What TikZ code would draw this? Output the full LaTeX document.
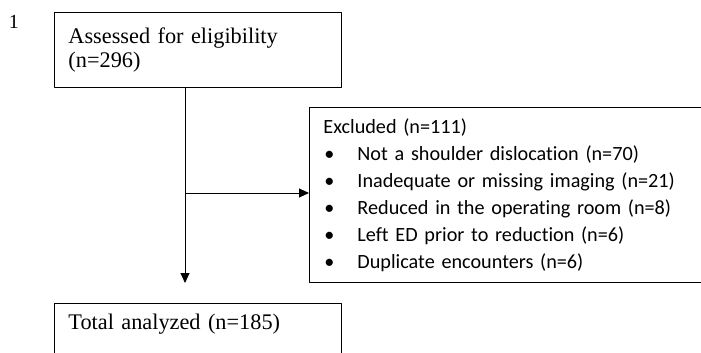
\documentclass[tikz,border=0pt]{standalone}
\usepackage{fontspec}
\setmainfont{Liberation Serif}
\newfontfamily\calfont[Ligatures=NoCommon]{Carlito}
\usetikzlibrary{arrows.meta}
\newcommand{\exitem}[1]{\makebox[34pt][l]{\hspace{1pt}\textbullet}#1}
\begin{document}
\begin{tikzpicture}[x=1pt, y=-1pt, line width=0.9pt, line join=round,
	box/.style={draw, rectangle, anchor=north west, align=left, inner xsep=14pt},
	flow/.style={-{Triangle[length=10pt, width=9pt]}}]
	\useasboundingbox (0,0) rectangle (701,353);
	\clip (0,0) rectangle (701,353);
	% page number
	\node (pagenum) at (14,21.5) {\fontsize{20pt}{22pt}\selectfont 1};
	% boxes
	\node[box, minimum width=287pt, minimum height=75pt, text width=259pt,
		font=\fontsize{22.3pt}{23.5pt}\selectfont] (assessed) at (54,12)
		{Assessed for eligibility\\(n=296)};
	\node[box, minimum width=420pt, minimum height=175pt, text width=392pt,
		font=\calfont\fontsize{20.2pt}{27pt}\selectfont] (excluded) at (309,107)
		{Excluded (n=111)\\
		\exitem{Not a shoulder dislocation (n=70)}\\
		\exitem{Inadequate or missing imaging (n=21)}\\
		\exitem{Reduced in the operating room (n=8)}\\
		\exitem{Left ED prior to reduction (n=6)}\\
		\exitem{Duplicate encounters (n=6)}};
	\node[box, minimum width=287pt, text width=259pt, text height=19pt, text depth=60pt,
		inner ysep=7pt, font=\fontsize{22.3pt}{24pt}\selectfont] (total) at (54,303)
		{Total analyzed (n=185)};
	% connectors
	\coordinate (split) at (185,193);
	\draw[flow, shorten >=20pt] (assessed.south -| split) -- (total.north -| split);
	\draw[flow] (split) -- (excluded.west |- split);
\end{tikzpicture}
\end{document}
